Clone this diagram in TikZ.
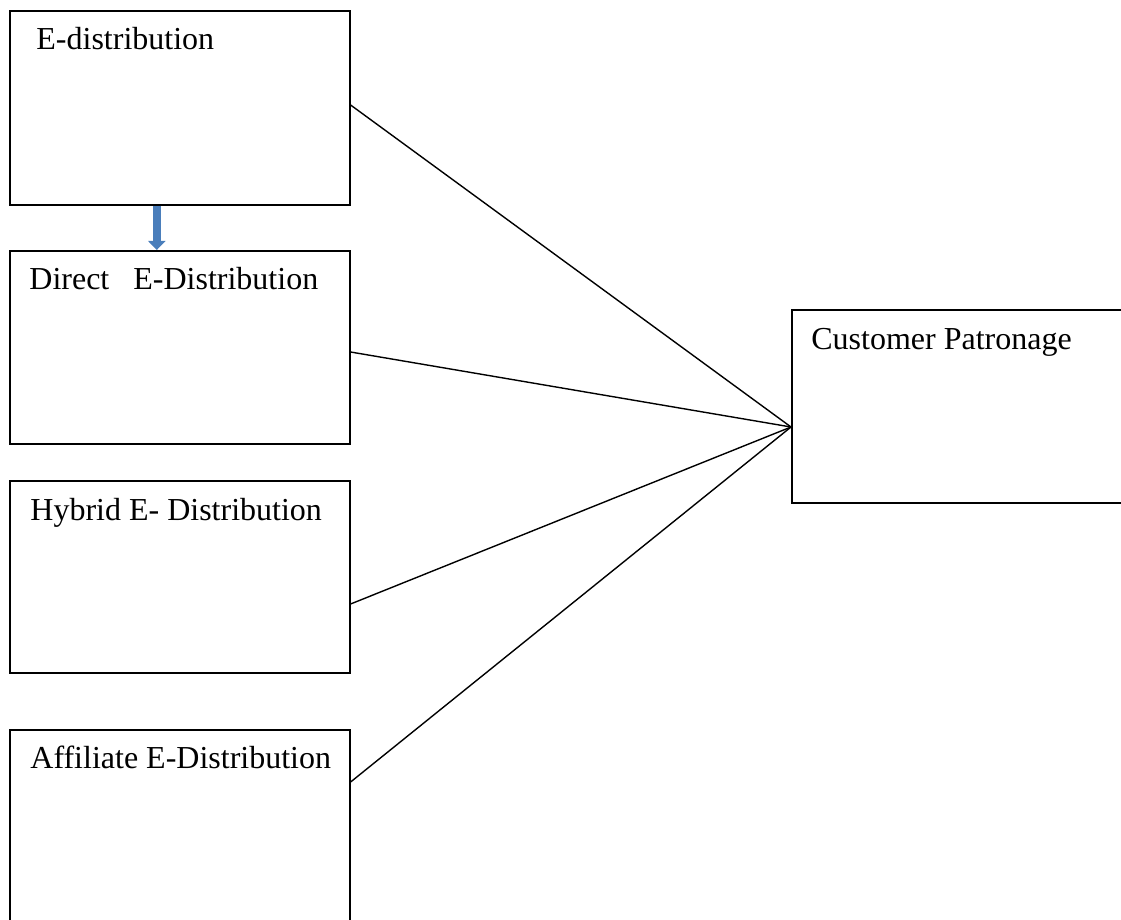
\documentclass[tikz,border=0pt]{standalone}
\usepackage{fontspec}
\setmainfont{Liberation Serif}
\usepackage{tikz}
\usetikzlibrary{arrows.meta}
\definecolor{arrblue}{RGB}{74,126,187}
\tikzset{
  boxnode/.style  = {draw,line width=0.8pt,anchor=north west,minimum width=170pt,inner sep=0pt},
  lbltext/.style  = {anchor=base west,inner sep=0pt,font=\fontsize{16}{19}\selectfont},
  linkline/.style = {line width=0.7pt},
  blockarr/.style = {-{Triangle[length=4.5pt,width=8.5pt]},line width=3.8pt,arrblue}
}

\begin{document}
\begin{tikzpicture}[x=0.5pt,y=-0.5pt]
  \useasboundingbox (0,0) rectangle (1121,920);
  \clip (0,0) rectangle (1121,920);
  \node[boxnode,minimum height=97pt]   (edist) at (9,10)   {};
  \node[boxnode,minimum height=96.5pt] (dir)   at (9,250)  {};
  \node[boxnode,minimum height=96pt]   (hyb)   at (9,480)  {};
  \node[boxnode,minimum height=125pt]  (aff)   at (9,729)  {};
  \node[boxnode,minimum width=200pt,minimum height=96.5pt] (cpat) at (791,309) {};
  \node[lbltext] (edistlbl) at (36,50)  {E-distribution};
  \node[lbltext] (dirlbl)   at (29,290) {Direct~~~E-Distribution};
  \node[lbltext] (hyblbl)   at (30,520) {Hybrid E- Distribution};
  \node[lbltext] (afflbl)   at (30,768) {Affiliate E-Distribution};
  \node[lbltext] (cpatlbl)  at (811,350) {Customer Patronage};
  \coordinate (hub) at ([yshift=-59pt]cpat.north west);
  \draw[blockarr] ([xshift=-11.5pt]edist.south) -- ([xshift=-11.5pt]dir.north);
  \draw[linkline] ([yshift=-47.5pt]edist.north east) -- (hub);
  \draw[linkline] ([yshift=-51pt]dir.north east) -- (hub);
  \draw[linkline] ([yshift=-62pt]hyb.north east) -- (hub);
  \draw[linkline] ([yshift=-26.5pt]aff.north east) -- (hub);
\end{tikzpicture}
\end{document}
